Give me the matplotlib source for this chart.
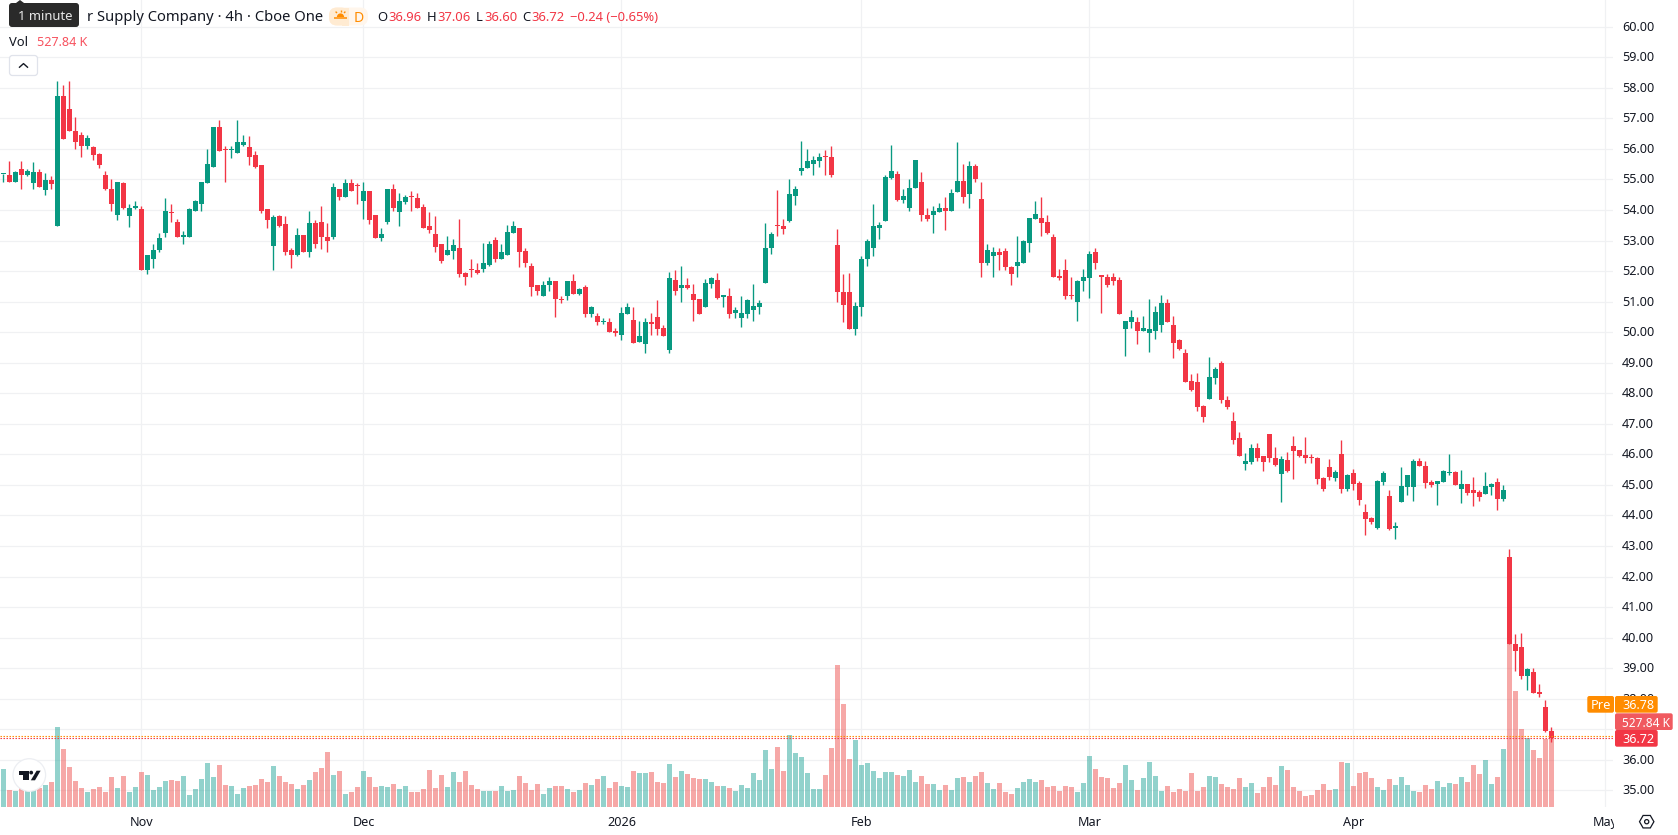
import matplotlib
matplotlib.use("Agg")
import matplotlib.pyplot as plt
from matplotlib.patches import FancyBboxPatch, Circle, Polygon, RegularPolygon, Wedge, Rectangle
from matplotlib.transforms import Bbox, ScaledTranslation

# 4h candles, oldest first
opens = [
    55.17,55.16,54.90,55.33,55.16,54.87,55.23,54.64,54.97,53.46,
    57.72,57.32,56.60,56.47,56.11,56.05,55.82,55.16,54.70,53.82,
    54.87,53.79,54.05,54.02,52.02,52.38,52.68,53.23,53.93,53.62,
    53.12,53.13,53.98,54.18,54.87,55.42,56.73,55.97,55.96,55.88,
    56.14,56.05,55.79,55.46,54.02,52.81,53.79,53.53,52.68,52.51,
    53.17,52.64,53.56,53.62,53.13,53.10,54.70,54.41,54.87,54.82,
    54.28,54.61,53.82,53.07,53.62,54.70,53.92,54.25,54.43,54.38,
    54.11,53.46,53.20,52.87,52.54,52.67,52.77,51.95,52.08,52.05,
    52.08,52.21,53.03,52.41,52.51,53.26,53.42,52.67,52.18,51.53,
    51.20,51.56,51.69,51.10,51.17,51.69,51.26,51.49,50.58,50.54,
    50.32,50.32,50.05,49.92,50.61,50.41,49.69,49.60,50.32,50.51,
    50.15,49.40,51.72,51.43,51.56,51.26,51.07,50.81,51.59,51.72,
    51.16,51.17,50.64,50.48,50.58,50.74,50.84,51.62,52.74,53.52,
    53.49,53.65,54.47,55.26,55.36,55.52,55.59,55.75,55.72,52.84,
    51.33,51.33,50.09,50.81,52.38,52.74,53.42,53.65,55.06,55.19,
    54.34,54.05,54.73,54.90,53.85,53.82,53.92,54.08,53.98,54.60,
    54.96,54.51,55.45,54.37,52.25,52.48,52.64,52.67,52.12,52.15,
    52.28,52.93,53.72,53.75,53.59,53.10,51.85,52.05,51.23,51.00,
    51.66,51.76,52.61,51.84,51.82,51.79,51.72,50.09,50.32,50.32,
    50.05,49.96,50.05,50.25,50.97,50.25,49.73,49.31,48.39,48.36,
    47.57,47.80,48.49,48.98,47.77,47.08,46.53,45.68,45.74,46.20,
    45.94,46.66,45.87,45.35,45.81,46.26,46.13,45.97,45.90,45.87,
    45.22,45.58,45.22,46.00,44.86,45.38,45.05,44.10,43.91,43.58,
    45.09,44.63,43.58,44.43,44.92,44.92,45.77,45.61,45.09,45.02,
    45.09,45.38,45.41,44.86,45.02,44.82,44.76,44.69,44.92,45.09,
    44.53,42.63,39.79,39.70,38.75,38.88,38.23,37.74,36.96,
]
closes = [
    55.19,54.90,55.23,55.16,55.29,55.23,54.74,54.97,54.84,57.72,
    56.31,56.60,56.24,56.11,56.37,55.79,55.46,54.67,54.21,54.90,
    54.08,54.08,54.12,52.02,52.51,52.68,53.07,53.95,53.90,53.10,
    53.14,54.02,54.28,54.90,55.49,56.70,55.92,55.95,55.99,56.21,
    56.24,55.72,55.42,53.98,53.66,53.76,53.49,52.64,52.51,53.17,
    52.61,53.56,52.87,53.10,53.00,54.74,54.41,54.87,54.61,54.78,
    54.61,53.66,53.07,53.20,54.70,54.05,54.28,54.41,54.41,54.05,
    53.42,53.33,52.80,52.34,52.70,52.84,51.92,51.79,52.02,51.95,
    52.25,52.90,52.38,52.64,53.29,53.49,52.61,52.28,51.49,51.36,
    51.56,51.69,51.07,51.04,51.66,51.26,51.40,50.58,50.81,50.32,
    50.35,50.02,49.96,50.64,50.84,49.66,49.86,50.32,50.28,50.12,
    49.86,51.76,51.36,51.56,51.46,51.04,50.61,51.62,51.76,51.13,
    51.18,50.61,50.71,50.64,51.04,50.87,50.97,52.74,53.20,53.46,
    53.39,54.51,54.70,55.39,55.59,55.62,55.72,55.72,55.16,51.33,
    50.90,50.09,50.87,52.41,53.00,53.46,53.52,55.09,55.29,54.34,
    54.47,54.73,55.62,53.82,53.72,53.95,54.08,53.98,54.54,54.96,
    54.41,55.45,55.00,52.25,52.70,52.64,52.51,52.12,51.92,52.31,
    53.00,53.75,53.88,53.56,53.23,51.82,51.76,51.17,51.17,51.69,
    51.82,52.57,52.25,51.81,51.56,51.69,50.58,50.35,50.51,50.05,
    50.15,50.09,50.67,50.97,50.32,49.66,49.44,48.36,48.10,47.54,
    47.21,48.52,48.79,47.77,47.54,46.46,45.94,45.77,46.20,45.87,
    45.74,45.87,45.64,45.84,45.45,46.10,45.94,45.87,45.87,45.18,
    44.86,45.25,45.41,44.86,45.32,45.02,44.50,43.88,43.78,45.12,
    45.38,43.55,43.65,44.96,45.32,45.77,45.61,45.05,44.99,45.12,
    45.45,45.41,44.99,45.02,44.73,44.73,44.60,44.96,45.02,44.53,
    44.82,39.79,39.57,38.75,38.98,38.19,38.16,36.95,36.72,
]
highs = [
    55.19,55.59,55.29,55.59,55.33,55.56,55.33,55.20,55.10,58.21,
    58.08,58.21,57.03,56.54,56.47,56.08,55.85,55.29,55.00,54.93,
    54.90,54.18,54.28,54.12,52.54,52.90,53.26,54.38,54.18,53.69,
    53.30,54.05,54.31,54.93,55.98,56.70,56.93,56.11,56.11,56.93,
    56.47,56.41,55.92,55.46,54.02,53.82,53.85,53.79,52.74,53.40,
    53.17,53.95,53.66,54.12,53.56,54.87,54.70,55.03,55.00,54.87,
    54.93,54.61,53.82,53.40,54.70,54.84,54.54,54.48,54.61,54.54,
    54.18,53.92,53.79,52.87,53.16,53.06,53.72,51.98,52.38,52.25,
    52.93,53.00,53.13,52.90,53.52,53.65,53.42,52.74,52.25,51.53,
    51.66,51.82,51.69,51.20,51.69,51.89,51.43,51.56,50.87,50.64,
    50.48,50.48,50.15,50.84,50.97,50.84,50.38,50.45,50.64,51.04,
    50.22,51.98,52.05,52.15,51.76,51.59,51.10,51.74,51.82,51.95,
    51.23,51.43,50.84,51.20,51.10,51.59,51.04,53.56,53.29,54.64,
    53.72,55.00,54.77,56.27,56.01,55.78,55.88,55.95,56.08,53.39,
    51.92,51.95,51.00,52.48,53.06,54.21,53.59,55.16,56.14,55.26,
    54.70,55.03,55.65,55.23,54.05,54.12,54.24,54.44,54.70,56.21,
    55.49,55.59,55.49,54.93,52.87,52.80,52.74,52.77,52.18,53.16,
    53.03,53.75,54.28,54.44,53.85,53.20,52.08,52.38,51.82,51.72,
    52.08,52.67,52.74,51.85,51.92,51.95,51.79,50.35,50.74,50.51,
    50.54,51.10,50.87,51.23,51.10,50.54,49.79,49.44,48.62,48.65,
    47.61,49.18,48.85,49.05,47.90,47.38,46.72,46.04,46.33,46.36,
    45.94,46.66,46.23,45.94,46.07,46.59,46.13,46.56,46.00,45.90,
    45.25,45.84,45.48,46.46,45.35,45.51,45.12,44.37,43.94,45.15,
    45.45,44.82,43.78,45.58,45.32,45.84,45.87,45.77,45.15,45.12,
    45.48,46.00,45.45,45.48,45.02,45.25,44.82,45.41,45.05,45.22,
    44.99,42.90,40.12,40.16,39.00,39.01,38.49,37.96,37.06,
]
lows = [
    54.90,54.90,54.90,54.67,55.10,54.67,54.74,54.48,54.70,53.46,
    56.31,56.60,56.01,55.75,56.01,55.65,55.36,54.64,53.98,53.66,
    54.02,53.43,54.02,52.02,51.92,52.09,52.64,53.13,53.59,53.10,
    52.90,53.13,53.98,53.98,54.87,55.42,55.92,54.93,55.69,55.88,
    56.08,55.46,55.36,53.89,53.40,52.02,53.43,52.54,52.09,52.48,
    52.61,52.45,52.74,52.71,52.61,53.04,54.34,54.41,54.61,54.18,
    53.69,53.53,53.07,52.97,53.53,53.98,53.46,54.21,53.98,54.05,
    53.42,53.26,52.64,52.28,52.51,52.41,51.79,51.56,51.82,51.92,
    51.98,52.18,52.31,52.41,52.51,53.26,52.12,52.12,51.17,51.23,
    51.17,51.36,50.51,50.94,51.04,51.26,51.23,50.51,50.51,50.25,
    50.28,49.99,49.86,49.73,50.61,49.63,49.69,49.33,49.92,49.92,
    49.86,49.33,51.23,51.00,51.40,50.35,50.58,50.81,51.43,51.10,
    50.84,50.48,50.45,50.18,50.48,50.35,50.58,51.62,52.57,53.16,
    53.20,53.62,54.15,55.16,55.36,55.13,55.42,55.16,55.09,51.00,
    50.32,50.09,49.92,50.54,52.15,52.48,53.06,53.65,55.00,54.28,
    54.24,53.95,54.73,53.65,53.65,53.26,53.92,53.36,53.98,54.60,
    54.24,54.05,54.90,51.79,52.21,51.79,52.05,52.02,51.56,51.79,
    52.28,52.61,53.69,53.16,53.20,51.82,51.72,51.10,51.10,50.35,
    51.36,51.13,52.08,50.64,51.49,51.56,50.58,49.22,50.15,49.60,
    50.05,49.36,49.79,50.02,50.32,49.17,49.40,48.36,48.06,47.41,
    47.05,47.80,48.29,47.67,47.48,46.33,45.94,45.48,45.68,45.77,
    45.45,45.74,45.61,44.43,45.41,45.18,45.90,45.71,45.71,45.02,
    44.79,45.15,45.12,44.73,44.79,44.82,44.33,43.35,43.71,43.55,
    44.99,43.51,43.22,44.43,44.66,44.46,45.61,44.89,44.92,44.33,
    45.09,45.32,44.99,44.40,44.66,44.30,44.46,44.69,44.66,44.17,
    44.46,39.79,38.91,38.65,38.29,38.19,38.06,36.92,36.60,
]
# Volume per candle, in thousands of shares
volumes = [
    274,122,115,134,122,122,134,158,180,576,
    418,288,187,137,108,130,144,108,216,137,
    223,108,144,252,230,122,144,187,194,187,
    223,86,130,202,317,216,302,158,151,94,
    137,151,158,202,180,295,223,180,166,130,
    158,194,252,281,396,230,259,94,108,144,
    259,216,144,151,144,166,130,151,108,108,
    127,264,134,228,142,250,178,257,156,127,
    113,113,113,149,113,120,221,170,120,163,
    91,134,149,149,127,106,120,170,156,199,
    221,134,178,149,142,257,242,242,250,178,
    170,307,214,257,235,206,199,199,178,149,
    149,134,113,156,134,242,192,408,271,430,
    257,516,386,358,242,127,127,228,422,1020,
    739,343,480,300,314,257,206,250,250,228,
    221,264,178,223,166,166,122,158,122,209,
    216,180,223,252,173,130,173,108,94,137,
    180,202,180,194,144,151,115,151,144,108,
    173,367,274,216,209,137,173,302,194,122,
    209,324,223,115,151,108,130,115,245,115,
    144,223,216,166,144,130,209,144,173,101,
    144,216,158,295,266,144,115,79,86,122,
    166,122,130,324,317,151,245,252,209,144,
    122,202,158,216,156,113,106,156,127,185,
    142,170,163,214,178,300,235,336,163,214,
    415,1171,833,559,494,408,350,487,527.84,
]
# Candle index of each month boundary on the time axis
month_positions = [23, 60, 103, 143, 181, 225, 267]
month_labels = ["Nov", "Dec", "2026", "Feb", "Mar", "Apr", "May"]
price_ticks = list(range(35, 61))
last_close = 36.72
premarket = 36.78

UP = "#089981"
DOWN = "#F23645"
VOL_UP = "#26a69a"
VOL_DOWN = "#ef5350"
GRID = "#f0f1f3"
INK = "#131722"
ORANGE = "#FF8C00"

plt.rcParams["font.family"] = ["Noto Sans", "DejaVu Sans"]

W, H = 1678, 835
PANE_W, PANE_H = 1613, 807
fig = plt.figure(figsize=(W / 100, H / 100), dpi=100, facecolor="white")
pane = [0, (H - PANE_H) / H, PANE_W / W, PANE_H / H]


def pt(px):
    return px * 0.72


xlim = (-0.583, 268.25)
ylim = (34.457, 60.873)
xs = list(range(len(closes)))
up_flags = [c >= o for o, c in zip(opens, closes)]

# Bottom layer: scale, ticks and grid
base = fig.add_axes(pane, zorder=1)
base.set_xlim(xlim)
base.set_ylim(ylim)
for s in base.spines.values():
    s.set_visible(False)
base.yaxis.tick_right()
base.set_yticks(price_ticks)
base.set_yticklabels([f"{p:.2f}" for p in price_ticks])
base.set_xticks(month_positions)
base.set_xticklabels(month_labels)
base.tick_params(axis="y", length=0, pad=6.5, labelsize=pt(12.6), labelcolor=INK)
base.tick_params(axis="x", length=0, pad=6.8, labelsize=pt(12.6), labelcolor=INK)
base.grid(True, color=GRID, linewidth=0.9)
base.set_axisbelow(True)
nudge_up = ScaledTranslation(0, 1 / 100, fig.dpi_scale_trans)
for lab in base.get_yticklabels():
    lab.set_transform(lab.get_transform() + nudge_up)
for lab in base.get_xticklabels():
    if lab.get_text() == "2026":
        lab.set_fontweight("bold")
    if lab.get_text() == "May":
        lab.set_clip_on(True)
        lab.set_clip_box(Bbox([[0, 0], [PANE_W + 1, H]]))

# Middle layer: volume histogram
vol_ax = fig.add_axes(pane, zorder=2)
vol_ax.patch.set_visible(False)
vol_ax.set_xlim(xlim)
vol_ax.set_ylim(0, PANE_H * 7.2)
vol_ax.axis("off")
vol_ax.bar(xs, volumes, width=0.82, linewidth=0,
           color=[VOL_UP if u else VOL_DOWN for u in up_flags], alpha=0.5)

# Top layer: candles and last-price lines
ax = fig.add_axes(pane, zorder=3)
ax.patch.set_visible(False)
ax.set_xlim(xlim)
ax.set_ylim(ylim)
ax.axis("off")
colors = [UP if u else DOWN for u in up_flags]
ax.vlines(xs, lows, highs, colors=colors, linewidth=pt(1.35), zorder=2)
bottoms = [min(o, c) for o, c in zip(opens, closes)]
heights = [max(abs(o - c), 0.045) for o, c in zip(opens, closes)]
ax.bar(xs, heights, bottom=bottoms, width=0.82, color=colors, linewidth=0, zorder=3)
ax.axhline(premarket, color=ORANGE, linewidth=0.8, linestyle=(0, (1.3, 1.4)), zorder=4)
ax.axhline(last_close, color=DOWN, linewidth=0.8, linestyle=(0, (1.3, 1.4)), zorder=4)

# Chart furniture, placed in pixel coordinates
ui = fig.add_axes([0, 0, 1, 1], zorder=4)
ui.patch.set_visible(False)
ui.set_xlim(0, W)
ui.set_ylim(H, 0)
ui.axis("off")


def box(x0, y0, x1, y1, color, r=2.0, **kw):
    ui.add_patch(FancyBboxPatch((x0 + r, y0 + r), x1 - x0 - 2 * r, y1 - y0 - 2 * r,
                                boxstyle=f"round,pad={r},rounding_size={r}",
                                facecolor=color, edgecolor=kw.pop("edgecolor", "none"),
                                linewidth=kw.pop("linewidth", 0), **kw))


def label(x, y, s, color=INK, size=12.6, ha="left", **kw):
    ui.text(x, y, s, color=color, fontsize=pt(size), ha=ha, va="center_baseline", **kw)


# Title row
label(87, 15.5, "r Supply Company · 4h · Cboe One", size=14.8)
box(9, 3, 79, 27, "#2a2a2a", r=3)
ui.add_patch(Polygon([[16, 3], [20, 0], [24, 3]], closed=True, facecolor="#2a2a2a", edgecolor="none"))
label(18, 15.5, "1 minute", color="#e8e8e8", size=13)

# Pre-market session badge
box(329, 7.5, 368, 25.5, "#FFF6EC", r=8)
box(329, 7.5, 349, 25.5, "#FFEBD2", r=8)
ui.add_patch(Rectangle((342, 7.5), 7, 18, facecolor="#FFEBD2", edgecolor="none"))
ui.add_patch(Wedge((340.5, 17), 3.6, 180, 360, facecolor=ORANGE, edgecolor="none"))
ui.plot([334, 347], [18.2, 18.2], color=ORANGE, linewidth=1.1, solid_capstyle="butt")
for x0, y0, x1, y1 in [(340.5, 9.8, 340.5, 11.8), (335.6, 11.6, 337, 13), (345.4, 11.6, 344, 13)]:
    ui.plot([x0, x1], [y0, y1], color=ORANGE, linewidth=1.0, solid_capstyle="butt")
label(354, 16, "D", color=ORANGE, size=14, fontweight="bold")

# OHLC readout
readout = [(377.5, "O", INK), (388.3, "36.96", DOWN), (427, "H", INK), (437.3, "37.06", DOWN),
           (476, "L", INK), (484, "36.60", DOWN), (522, "C", INK), (531, "36.72", DOWN),
           (570, "−0.24 (−0.65%)", DOWN)]
for x, s, c in readout:
    label(x, 16, s, color=c, size=13)

# Volume readout and collapse button
label(9, 40.5, "Vol", size=13)
label(36.7, 40.5, "527.84 K", color="#F7525F", size=12.6)
box(9.5, 55.5, 37.5, 75.5, "white", r=3, edgecolor="#e0e3eb", linewidth=0.9)
ui.plot([19.5, 23.5, 27.5], [67.2, 63.6, 67.2], color=INK, linewidth=1.0)

# Price scale tags
box(1587.3, 696, 1614, 712.7, ORANGE, r=2)
box(1615, 696, 1657.7, 712.7, ORANGE, r=2)
box(1615, 713.3, 1672.7, 730, "#F0595F", r=2)
box(1615, 730, 1657.7, 746.7, DOWN, r=2)
label(1591, 704.4, "Pre", color="white", size=12.8)
label(1622, 704.4, f"{premarket:.2f}", color="white", size=12.6)
label(1622, 721.6, f"{volumes[-1]:.2f} K", color="white", size=11.9)
label(1622, 738.4, f"{last_close:.2f}", color="white", size=12.6)

# Scale settings button
ui.add_patch(RegularPolygon((1646.7, 821.7), 6, radius=7.2, orientation=3.14159 / 2,
                            facecolor="white", edgecolor=INK, linewidth=0.9))
ui.add_patch(Circle((1646.7, 821.7), 2.1, facecolor="white", edgecolor=INK, linewidth=0.9))

# Attribution badge
ui.add_patch(Circle((29.3, 775), 16.3, facecolor="white", edgecolor="#eceef2", linewidth=0.9))
ui.add_patch(Polygon([[19, 770.7], [29.4, 770.7], [29.4, 780.3], [23.4, 780.3], [23.4, 775], [19, 775]],
                     closed=True, facecolor="#131722", edgecolor="none"))
ui.add_patch(Circle((31.2, 772.6), 1.9, facecolor="#131722", edgecolor="none"))
ui.add_patch(Polygon([[36.6, 770.7], [40.6, 770.7], [35, 780.3], [30.8, 780.3]],
                     closed=True, facecolor="#131722", edgecolor="none"))

fig.savefig("out.png", dpi=100, facecolor="white")
